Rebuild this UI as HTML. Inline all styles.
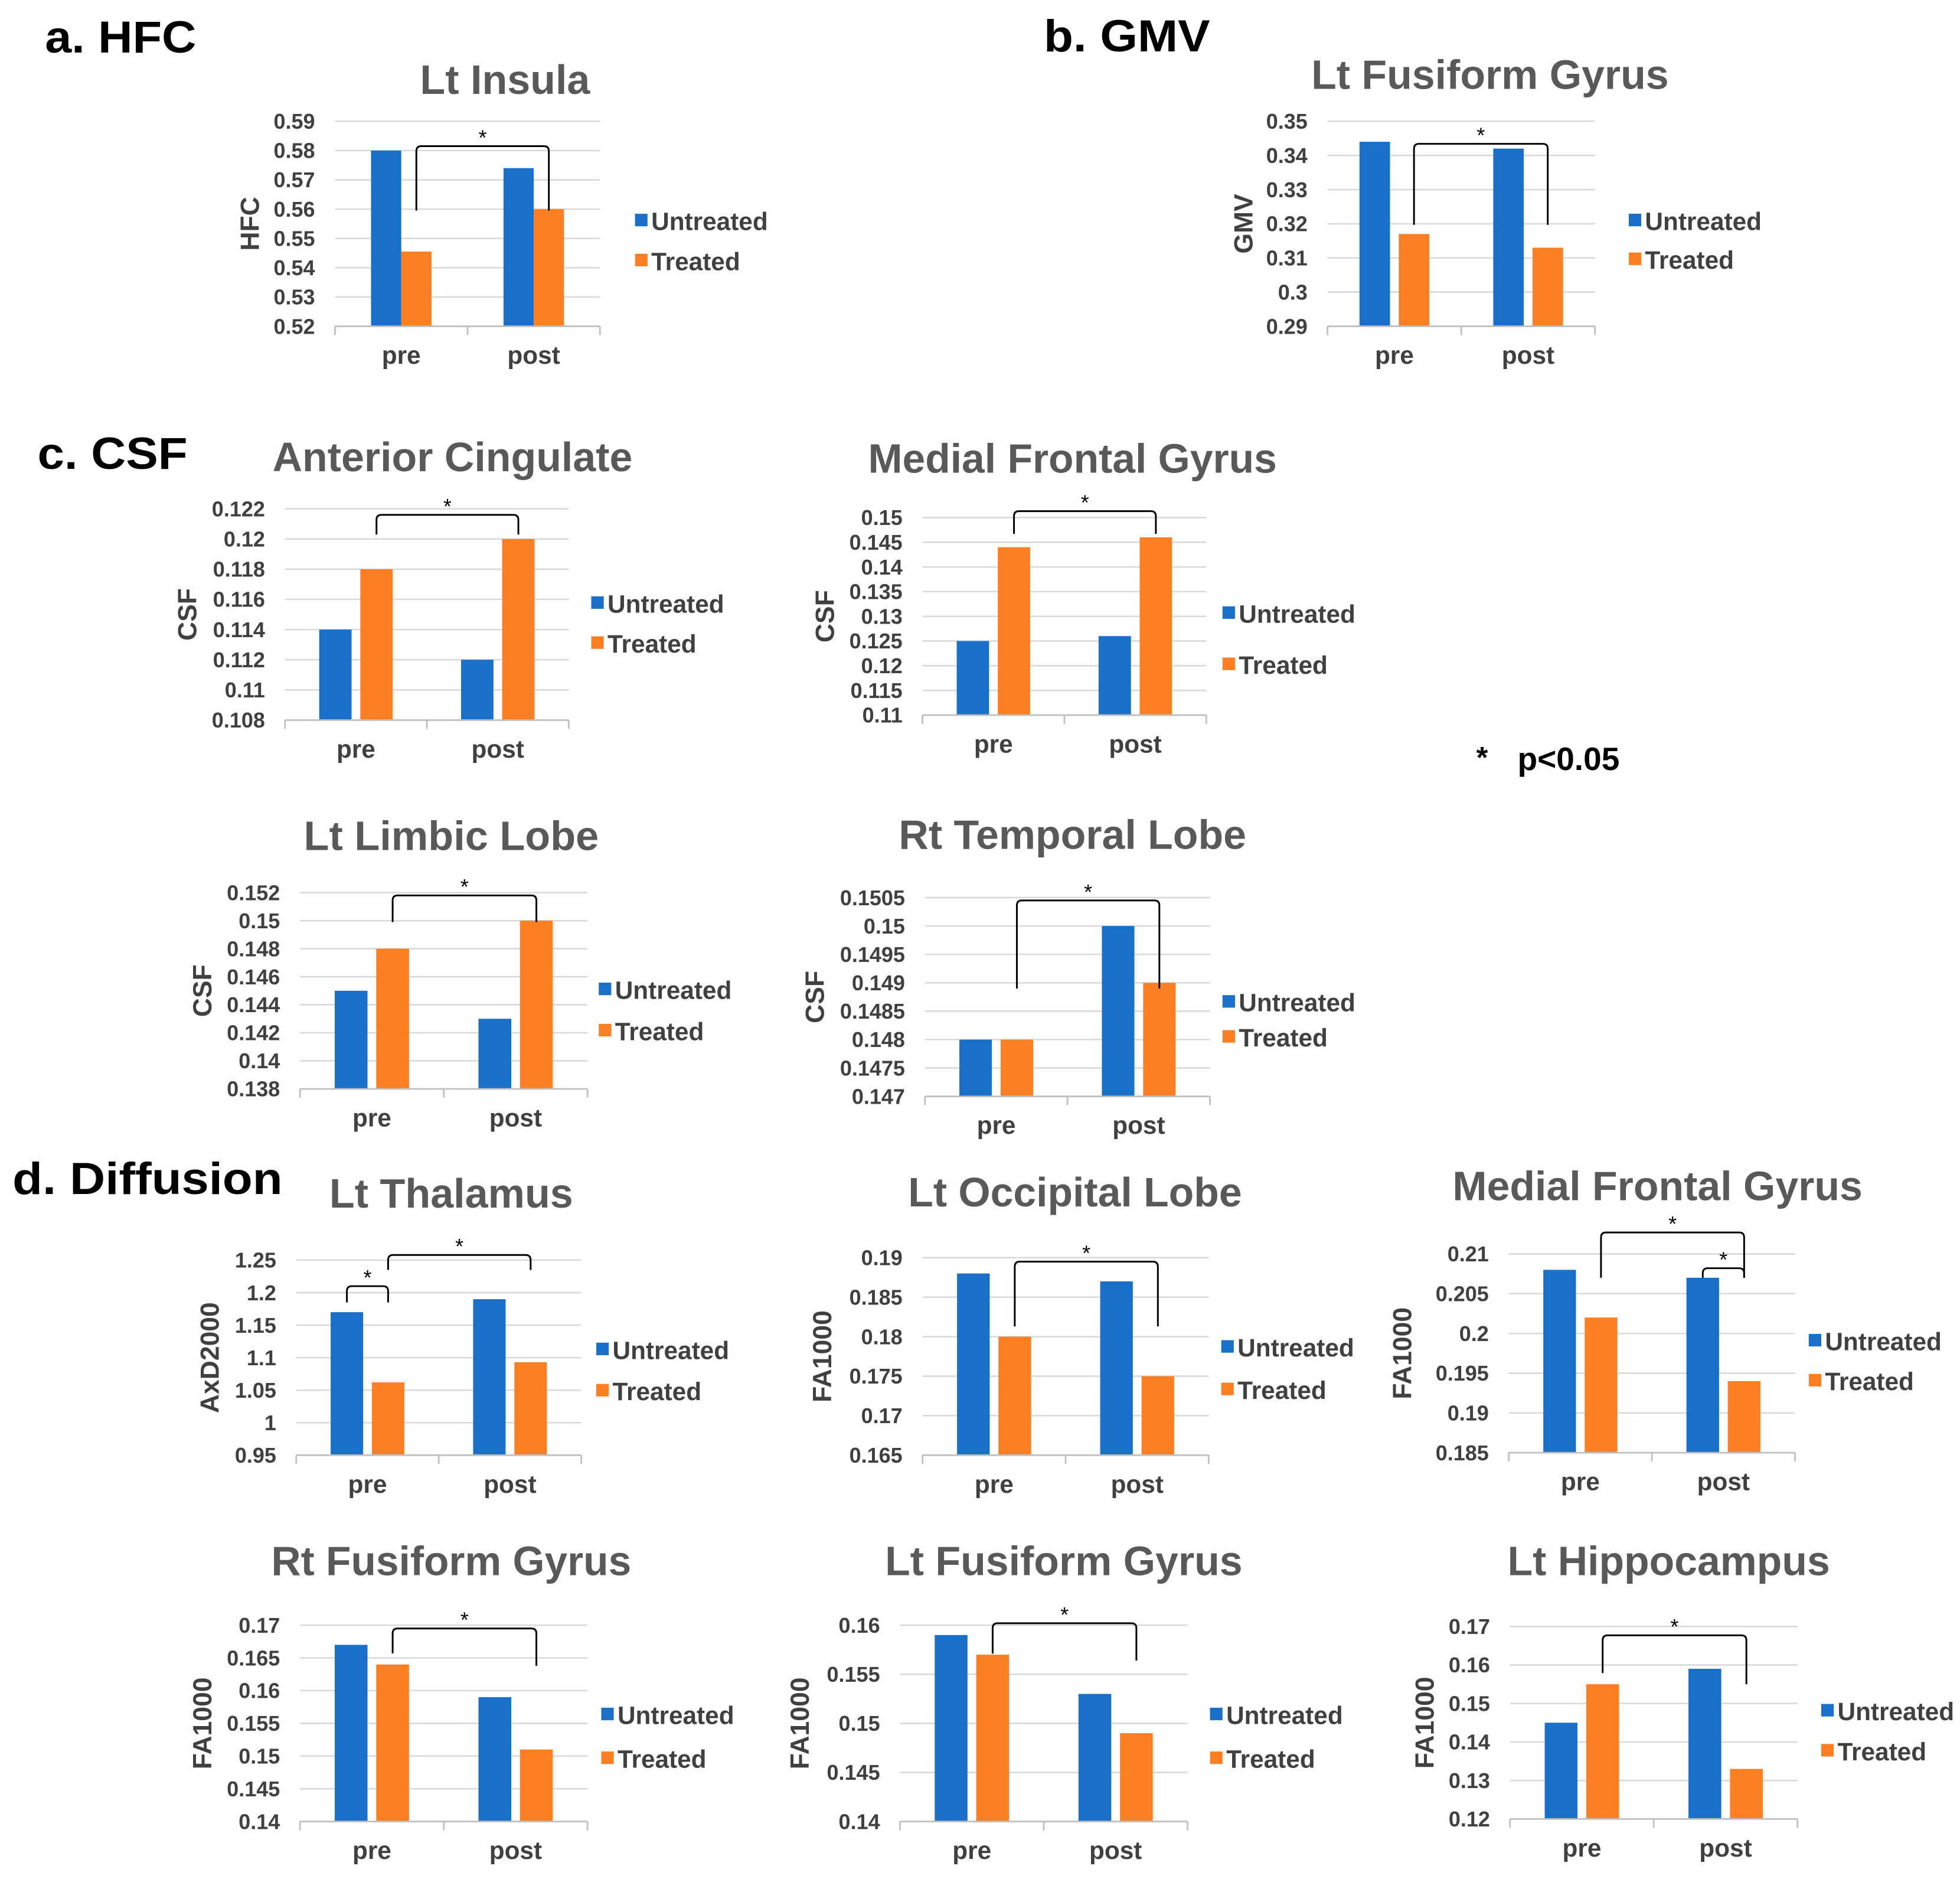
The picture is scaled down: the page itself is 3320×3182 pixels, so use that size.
<!DOCTYPE html>
<html><head><meta charset="utf-8"><style>
html,body{margin:0;padding:0;background:#fff;}
svg{display:block;font-family:"Liberation Sans Narrow","Liberation Sans",sans-serif;}
</style></head><body>
<svg id="fig" width="3320" height="3182" viewBox="0 0 1568 1503" preserveAspectRatio="none" xmlns="http://www.w3.org/2000/svg">
<text x="36" y="42" font-size="36" font-weight="bold" textLength="121" lengthAdjust="spacingAndGlyphs">a. HFC</text>
<text x="835" y="41" font-size="36" font-weight="bold" textLength="133" lengthAdjust="spacingAndGlyphs">b. GMV</text>
<text x="30" y="375" font-size="36" font-weight="bold" textLength="120" lengthAdjust="spacingAndGlyphs">c. CSF</text>
<text x="10" y="955" font-size="36" font-weight="bold" textLength="216" lengthAdjust="spacingAndGlyphs">d. Diffusion</text>
<text x="1181" y="614" font-size="24" font-weight="bold">*</text>
<text x="1214" y="616" font-size="26" font-weight="bold">p&lt;0.05</text>
</svg>
<script>
const categories = ["pre","post"];
const seriesNames = ["Untreated","Treated"];
// values [pre, post]
const insulaU = [0.58, 0.574], insulaT = [0.5455, 0.56];
const insulaTicks = ["0.52","0.53","0.54","0.55","0.56","0.57","0.58","0.59"];
const gmvU = [0.344, 0.342], gmvT = [0.317, 0.313];
const gmvTicks = ["0.29","0.3","0.31","0.32","0.33","0.34","0.35"];
const acU = [0.114, 0.112], acT = [0.118, 0.120];
const acTicks = ["0.108","0.11","0.112","0.114","0.116","0.118","0.12","0.122"];
const mfgU = [0.125, 0.126], mfgT = [0.144, 0.146];
const mfgTicks = ["0.11","0.115","0.12","0.125","0.13","0.135","0.14","0.145","0.15"];
const limbU = [0.145, 0.143], limbT = [0.148, 0.150];
const limbTicks = ["0.138","0.14","0.142","0.144","0.146","0.148","0.15","0.152"];
const rtlU = [0.148, 0.150], rtlT = [0.148, 0.149];
const rtlTicks = ["0.147","0.1475","0.148","0.1485","0.149","0.1495","0.15","0.1505"];
const thalU = [1.17, 1.19], thalT = [1.062, 1.093];
const thalTicks = ["0.95","1","1.05","1.1","1.15","1.2","1.25"];
const occU = [0.188, 0.187], occT = [0.180, 0.175];
const occTicks = ["0.165","0.17","0.175","0.18","0.185","0.19"];
const mfgdU = [0.208, 0.207], mfgdT = [0.202, 0.194];
const mfgdTicks = ["0.185","0.19","0.195","0.2","0.205","0.21"];
const rfgU = [0.167, 0.159], rfgT = [0.164, 0.151];
const rfgTicks = ["0.14","0.145","0.15","0.155","0.16","0.165","0.17"];
const lfgU = [0.159, 0.153], lfgT = [0.157, 0.149];
const lfgTicks = ["0.14","0.145","0.15","0.155","0.16"];
const hipU = [0.145, 0.159], hipT = [0.155, 0.133];
const hipTicks = ["0.12","0.13","0.14","0.15","0.16","0.17"];
// brackets: [catA, seriesA, catB, seriesB, topValue, endValueA, endValueB]
const insulaBr = [[0,1,1,1,0.5815,0.5595,0.5595]];
const gmvBr = [[0,1,1,1,0.3434,0.3197,0.3197]];
const acBr = [[0,1,1,1,0.1216,0.1203,0.1203]];
const mfgBr = [[0,1,1,1,0.1513,0.1467,0.1467]];
const limbBr = [[0,1,1,1,0.1518,0.1499,0.1499]];
const rtlBr = [[0,1,1,1,0.15045,0.1489,0.1489]];
const thalBr = [[0,0,0,1,1.21,1.185,1.185],[0,1,1,1,1.258,1.235,1.235]];
const occBr = [[0,1,1,1,0.1895,0.1813,0.1813]];
const mfgdBr = [[0,1,1,1,0.2127,0.207,0.207],[1,0,1,1,0.2082,0.207,0.207]];
const rfgBr = [[0,1,1,1,0.1695,0.1657,0.1638]];
const lfgBr = [[0,1,1,1,0.1602,0.1571,0.1564]];
const hipBr = [[0,1,1,1,0.1677,0.1579,0.1550]];

const charts = [
 {id:"lt-insula",title:"Lt Insula",tx:404,ty:75,tw:136,x0:268,x1:480,yt:97,yb:261,ticks:insulaTicks,u:insulaU,t:insulaT,br:insulaBr,yl:"HFC",ylx:200,lx:508,ly:[177,209],gap:0},
 {id:"lt-fusiform-gmv",title:"Lt Fusiform Gyrus",tx:1192,ty:71,tw:286,x0:1062,x1:1276,yt:97,yb:261,ticks:gmvTicks,u:gmvU,t:gmvT,br:gmvBr,yl:"GMV",ylx:995,lx:1303,ly:[177,208],gap:7},
 {id:"anterior-cingulate",title:"Anterior Cingulate",tx:362,ty:377,tw:288,x0:228,x1:455,yt:407,yb:576,ticks:acTicks,u:acU,t:acT,br:acBr,yl:"CSF",ylx:150,lx:473,ly:[483,515],gap:7},
 {id:"medial-frontal-csf",title:"Medial Frontal Gyrus",tx:858,ty:378,tw:327,x0:738,x1:965,yt:414,yb:572,ticks:mfgTicks,u:mfgU,t:mfgT,br:mfgBr,yl:"CSF",ylx:660,lx:978,ly:[491,532],gap:7},
 {id:"lt-limbic",title:"Lt Limbic Lobe",tx:361,ty:680,tw:236,x0:240,x1:470,yt:714,yb:871,ticks:limbTicks,u:limbU,t:limbT,br:limbBr,yl:"CSF",ylx:162,lx:479,ly:[792,825],gap:7},
 {id:"rt-temporal",title:"Rt Temporal Lobe",tx:858,ty:679,tw:278,x0:740,x1:968,yt:718,yb:877,ticks:rtlTicks,u:rtlU,t:rtlT,br:rtlBr,yl:"CSF",ylx:652,lx:978,ly:[802,830],gap:7},
 {id:"lt-thalamus",title:"Lt Thalamus",tx:361,ty:966,tw:195,x0:237,x1:465,yt:1008,yb:1164,ticks:thalTicks,u:thalU,t:thalT,br:thalBr,yl:"AxD2000",ylx:168,lx:477,ly:[1080,1113],gap:7},
 {id:"lt-occipital",title:"Lt Occipital Lobe",tx:860,ty:965,tw:267,x0:738,x1:967,yt:1006,yb:1164,ticks:occTicks,u:occU,t:occT,br:occBr,yl:"FA1000",ylx:658,lx:977,ly:[1078,1112],gap:7},
 {id:"medial-frontal-dti",title:"Medial Frontal Gyrus",tx:1326,ty:960,tw:328,x0:1207,x1:1436,yt:1003,yb:1162,ticks:mfgdTicks,u:mfgdU,t:mfgdT,br:mfgdBr,yl:"FA1000",ylx:1122,lx:1447,ly:[1073,1105],gap:7},
 {id:"rt-fusiform",title:"Rt Fusiform Gyrus",tx:361,ty:1260,tw:288,x0:240,x1:470,yt:1300,yb:1457,ticks:rfgTicks,u:rfgU,t:rfgT,br:rfgBr,yl:"FA1000",ylx:162,lx:481,ly:[1372,1407],gap:7},
 {id:"lt-fusiform-dti",title:"Lt Fusiform Gyrus",tx:851,ty:1260,tw:286,x0:720,x1:950,yt:1300,yb:1457,ticks:lfgTicks,u:lfgU,t:lfgT,br:lfgBr,yl:"FA1000",ylx:640,lx:968,ly:[1372,1407],gap:7},
 {id:"lt-hippocampus",title:"Lt Hippocampus",tx:1335,ty:1260,tw:258,x0:1208,x1:1438,yt:1301,yb:1455,ticks:hipTicks,u:hipU,t:hipT,br:hipBr,yl:"FA1000",ylx:1140,lx:1457,ly:[1369,1401],gap:7}
];
const NS="http://www.w3.org/2000/svg";
const svg=document.getElementById("fig");
const COLORS=["#1a70c8","#fd7f24"];
function mk(tag,attrs,parent){const e=document.createElementNS(NS,tag);for(const k in attrs)e.setAttribute(k,attrs[k]);parent.appendChild(e);return e;}
charts.forEach(c=>{
  const g=mk("g",{},svg);
  
  
  const vmin=parseFloat(c.ticks[0]), vmax=parseFloat(c.ticks[c.ticks.length-1]);
  const y=v=>c.yb-(v-vmin)/(vmax-vmin)*(c.yb-c.yt);
  const cw=(c.x1-c.x0)/2;
  const bw=cw*0.228;
  const barX=(ci,si)=>{const cx=c.x0+cw*(ci+0.5);return si===0?cx-c.gap/2-bw:cx+c.gap/2;};
  const t=mk("text",{x:c.tx,y:c.ty,"text-anchor":"middle","font-size":33,"font-weight":"bold",fill:"#595959",textLength:c.tw,lengthAdjust:"spacingAndGlyphs"},g);
  t.textContent=c.title;
  
  
  c.ticks.forEach((lab,i)=>{
    const v=parseFloat(lab);
    if(i>0){const gl=mk("line",{x1:c.x0,x2:c.x1,y1:y(v),y2:y(v),stroke:"#d9d9d9","stroke-width":1.2},g);
      
      }
    const tl=mk("text",{x:c.x0-16,y:y(v)+6,"text-anchor":"end","font-size":17,"font-weight":"bold",fill:"#404040"},g);
    tl.textContent=lab;
    
    
  });
  const yl=mk("text",{x:0,y:0,transform:`translate(${c.ylx+7},${(c.yt+c.yb)/2}) rotate(-90)`,"text-anchor":"middle","font-size":21,"font-weight":"bold",fill:"#404040"},g);
  yl.textContent=c.yl;
  
  
  [c.u,c.t].forEach((vals,si)=>{
    vals.forEach((v,ci)=>{
      const r=mk("rect",{x:barX(ci,si),y:y(v),width:bw,height:c.yb-y(v),fill:COLORS[si]},g);
      
      
    });
  });
  const ax=mk("line",{x1:c.x0,x2:c.x1,y1:c.yb,y2:c.yb,stroke:"#bfbfbf","stroke-width":1.3},g);
  
  
  [0,1,2].forEach(i=>{const tk=mk("line",{x1:c.x0+cw*i,x2:c.x0+cw*i,y1:c.yb,y2:c.yb+7,stroke:"#bfbfbf","stroke-width":1.3},g);
    
    });
  categories.forEach((cat,ci)=>{
    const ct=mk("text",{x:c.x0+cw*(ci+0.5),y:c.yb+30,"text-anchor":"middle","font-size":20,"font-weight":"bold",fill:"#404040"},g);
    ct.textContent=cat;
    
    
  });
  seriesNames.forEach((s,si)=>{
    const sq=mk("rect",{x:c.lx,y:c.ly[si]-6,width:10,height:10,fill:COLORS[si]},g);
    
    
    const lt=mk("text",{x:c.lx+13,y:c.ly[si]+7,"font-size":20,"font-weight":"bold",fill:"#404040"},g);
    lt.textContent=s;
    
    
  });
  c.br.forEach(b=>{
    const xa=barX(b[0],b[1])+bw/2, xb=barX(b[2],b[3])+bw/2, yt=y(b[4]);
    const p=mk("path",{d:`M${xa},${y(b[5])} L${xa},${yt+4} Q${xa},${yt} ${xa+4},${yt} L${xb-4},${yt} Q${xb},${yt} ${xb},${yt+4} L${xb},${y(b[6])}`,fill:"none",stroke:"#000","stroke-width":1.4},g);
    
    
    const a=mk("text",{x:(xa+xb)/2,y:yt-1,"text-anchor":"middle","font-size":17,fill:"#000"},g);
    a.textContent="*";
    
    
  });
});
</script>
</body></html>
